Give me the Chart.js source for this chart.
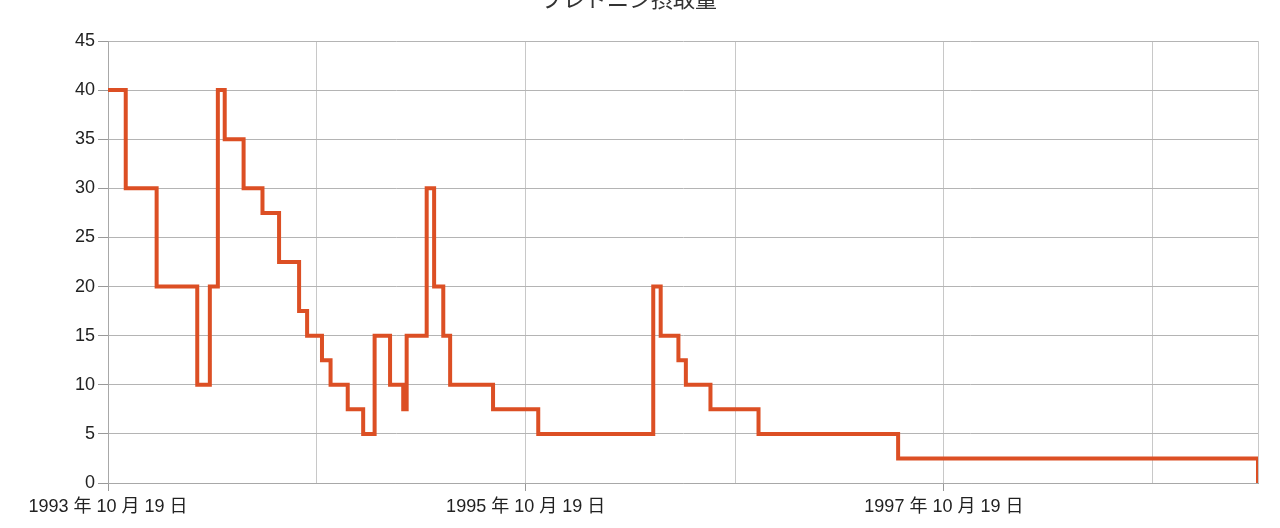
<!DOCTYPE html>
<html>
<head>
<meta charset="utf-8">
<script src="https://cdn.jsdelivr.net/npm/chart.js@4"></script>
<style>
  html, body { margin: 0; padding: 0; background: #fff; overflow: hidden; }
  #wrap { width: 1280px; height: 528px; }
</style>
</head>
<body>
<div id="wrap"><canvas id="doseChart"></canvas></div>
<script>
// プレドニン摂取量 (mg) - 変更日ごとの値
const changeDates = [
  '1993-10-19', '1993-11-19', '1994-01-12', '1994-03-24', '1994-04-15', '1994-04-29',
  '1994-05-11', '1994-06-13', '1994-07-16', '1994-08-14', '1994-09-18', '1994-10-02',
  '1994-10-28', '1994-11-12', '1994-12-12', '1995-01-08', '1995-01-28', '1995-02-24',
  '1995-03-19', '1995-03-25', '1995-04-29', '1995-05-12', '1995-05-28', '1995-06-09',
  '1995-08-23', '1995-11-10', '1996-05-29', '1996-06-11', '1996-07-12', '1996-07-25',
  '1996-09-06', '1996-11-29', '1997-07-31', '1999-04-21'
];
const doses = [
  40, 30, 20, 10, 20, 40,
  35, 30, 27.5, 22.5, 17.5, 15,
  12.5, 10, 7.5, 5, 15, 10,
  7.5, 15, 30, 20, 15, 10,
  7.5, 5, 20, 15, 12.5, 10,
  7.5, 5, 2.5, 0
];

// 目盛り (毎年10月19日)
const tickDates = ['1993-10-19', '1994-10-19', '1995-10-19', '1996-10-19', '1997-10-19', '1998-10-19', '1999-04-21'];
const tickLabels = ['1993 年 10 月 19 日', '', '1995 年 10 月 19 日', '', '1997 年 10 月 19 日', '', ''];
const yTicks = [0, 5, 10, 15, 20, 25, 30, 35, 40, 45];

const chartTitle = 'プレドニン摂取量';

// 日付 -> 開始日からの日数
const startMs = Date.parse(changeDates[0] + 'T00:00:00Z');
function dayOf(s) {
    return Math.round((Date.parse(s + 'T00:00:00Z') - startMs) / 86400000);
}

window.addEventListener('load', () => {
    Chart.defaults.font.family = '"Liberation Sans", "Noto Sans CJK JP", sans-serif';
    Chart.defaults.color = '#222';

    const points = changeDates.map((d, i) => ({ x: dayOf(d), y: doses[i] }));

    new Chart(document.getElementById('doseChart').getContext('2d'), {
        type: 'line',
        data: {
            datasets: [{
                label: chartTitle,
                data: points,
                borderColor: '#dc4f24',
                borderWidth: 4,
                pointRadius: 0,
                stepped: 'before',
                fill: false
            }]
        },
        options: {
            responsive: true,
            maintainAspectRatio: false,
            animation: false,
            layout: { padding: { left: 0, right: 22, top: 0, bottom: 0 } },
            plugins: {
                legend: { display: false },
                tooltip: { enabled: false },
                title: {
                    display: true,
                    text: chartTitle,
                    color: '#333',
                    font: { size: 22, weight: 'normal', family: '"Noto Sans CJK JP", sans-serif' },
                    padding: { top: -15, bottom: 29.6 }
                }
            },
            scales: {
                x: {
                    type: 'linear',
                    min: 0,
                    max: dayOf(changeDates[changeDates.length - 1]),
                    afterBuildTicks: (scale) => {
                        scale.ticks = tickDates.map(d => ({ value: dayOf(d) }));
                    },
                    afterFit: (scale) => { scale.height = 45; },
                    ticks: {
                        autoSkip: false,
                        maxRotation: 0,
                        padding: 5,
                        font: { size: 18 },
                        color: '#222',
                        callback: (value, index) => tickLabels[index] || ''
                    },
                    grid: {
                        color: '#c8c8c8',
                        lineWidth: 1,
                        tickLength: 8,
                        tickColor: (ctx) => (tickLabels[ctx.index] ? '#999' : 'rgba(0,0,0,0)')
                    },
                    border: { color: '#a8a8a8', width: 1 }
                },
                y: {
                    min: 0,
                    max: 45,
                    afterBuildTicks: (scale) => {
                        scale.ticks = yTicks.map(v => ({ value: v }));
                    },
                    afterFit: (scale) => { scale.width = 108; },
                    ticks: {
                        padding: 3,
                        font: { size: 18 },
                        color: '#222'
                    },
                    grid: {
                        color: '#b4b4b4',
                        lineWidth: 1,
                        tickLength: 10,
                        tickColor: '#999'
                    },
                    border: { color: '#a8a8a8', width: 1 }
                }
            }
        }
    });
});
</script>
</body>
</html>
